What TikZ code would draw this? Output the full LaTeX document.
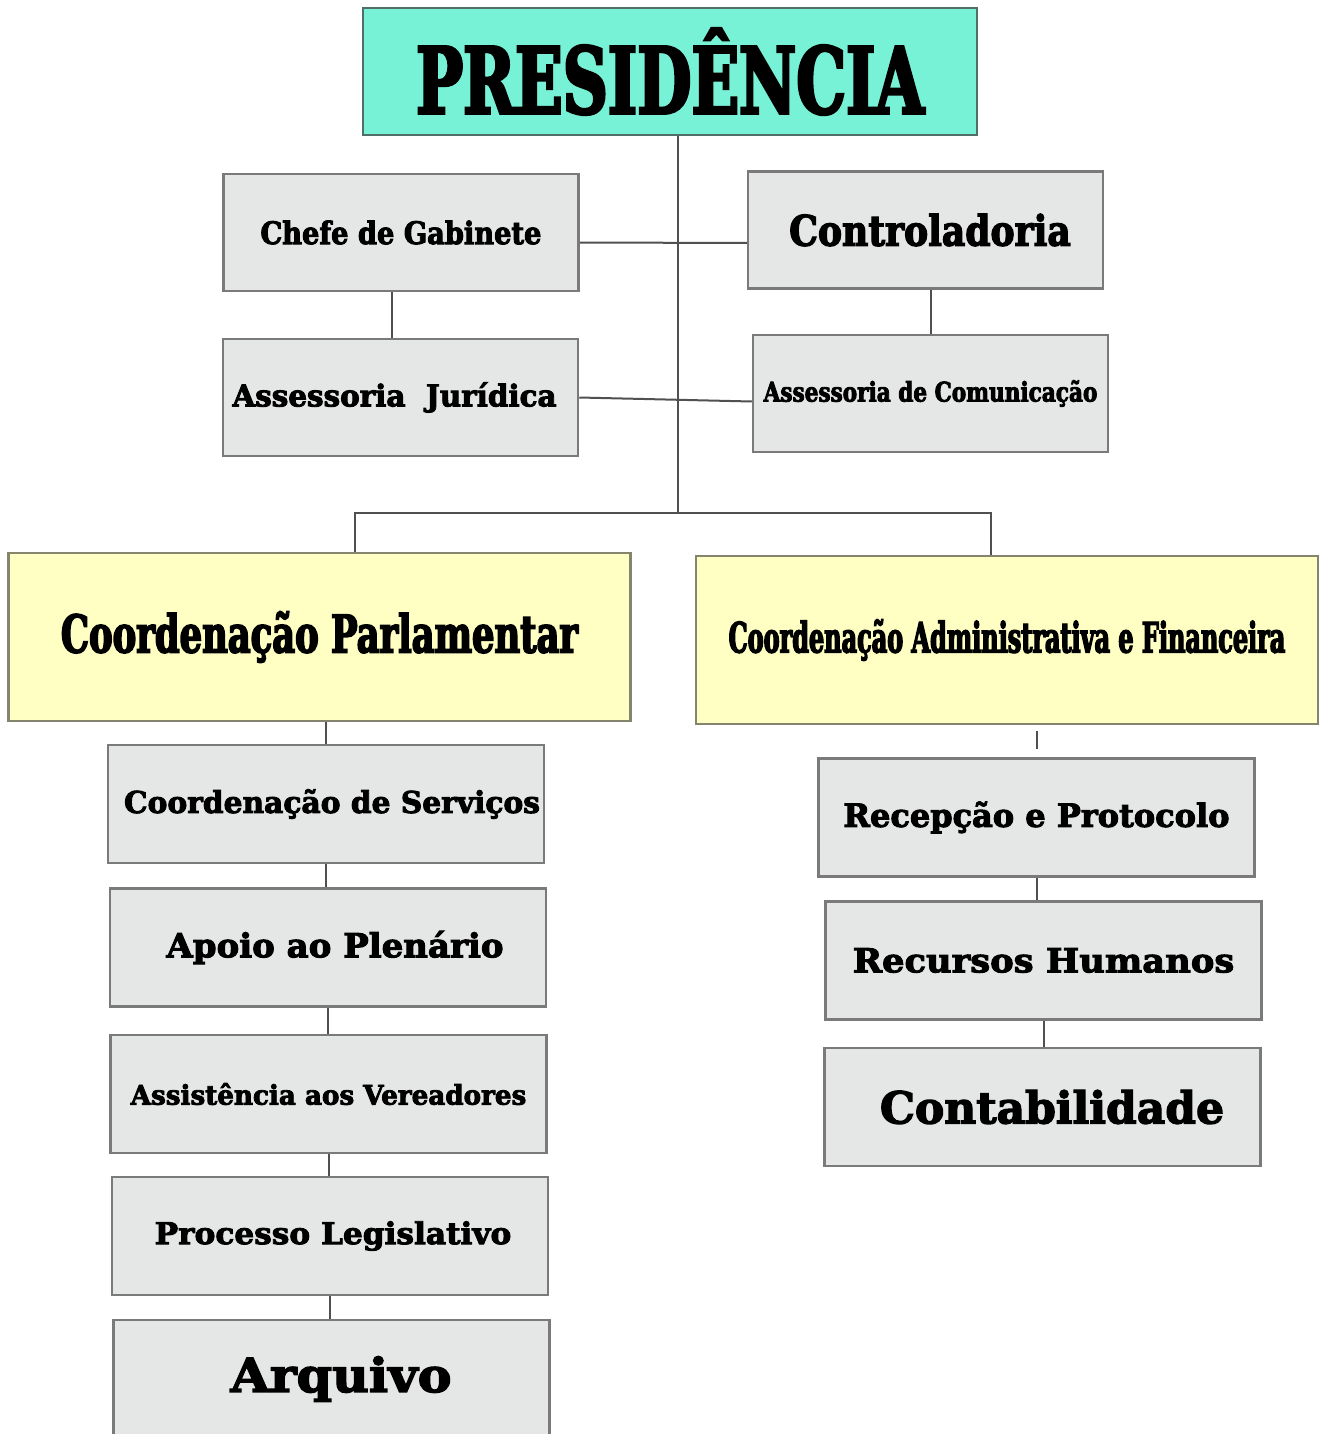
\documentclass[tikz,border=0pt]{standalone}
\usepackage{fontspec}
\usepackage{tikz}
\usetikzlibrary{positioning,calc}
\definecolor{presfill}{HTML}{78F2D6}
\definecolor{presline}{HTML}{4F6F69}
\definecolor{coordfill}{HTML}{FFFFC4}
\definecolor{coordline}{HTML}{85856E}
\definecolor{unitfill}{HTML}{E5E6E6}
\definecolor{unitline}{HTML}{7A7A7A}
\definecolor{wire}{HTML}{505050}
% heavy slab label: size, horizontal stretch, text
\newcommand{\slab}[3]{{\fontspec{DejaVu Serif}[FakeStretch=#2,FakeBold=3]\bfseries\fontsize{#1}{#1}\selectfont #3}}

\begin{document}
\begin{tikzpicture}[
  x=1pt, y=-1pt,
  box/.style={draw=unitline, fill=unitfill, line width=2.5pt, inner sep=0pt,
    minimum width=436pt, minimum height=118pt, align=center},
  topbox/.style={box, draw=presline, fill=presfill, minimum width=614pt, minimum height=127pt},
  sidebox/.style={box, minimum width=355pt, minimum height=117pt},
  coordbox/.style={box, draw=coordline, fill=coordfill, minimum width=622pt, minimum height=168pt},
  link/.style={draw=wire, line width=2pt}
]
\clip (0,0) rectangle (1326,1434);
\fill[white] (0,0) rectangle (1326,1434);

% top
\node[topbox] (pres) at (670,71.5) {\slab{92}{0.68}{PRESIDÊNCIA}};

% staff units
\node[sidebox] (chefe) at (401,232.5)   {\slab{31}{0.88}{Chefe de Gabinete}};
\node[sidebox] (contr) at (925.5,230)   {\slab{42}{0.86}{\hspace{9pt}Controladoria}};
\node[sidebox] (jur)   at (400.5,397.5) {\slab{30}{0.98}{Assessoria\ \ Jurídica\hspace{12pt}}};
\node[sidebox] (comun) at (930.5,393.5) {\slab{27}{0.8}{Assessoria de Comunicação}};

% coordinations
\node[coordbox] (parl) at (319.5,637) {\slab{52}{0.68}{Coordenação Parlamentar}};
\node[coordbox] (adm)  at (1007,640)  {\slab{42}{0.57}{Coordenação Administrativa e Financeira}};

% left column
\node[box] (serv)   at (326,804)    {\slab{30}{0.99}{\hspace{12pt}Coordenação de Serviços}};
\node[box] (apoio)  at (328,947.5)  {\slab{33}{1.03}{\hspace{14pt}Apoio ao Plenário}};
\node[box] (assist) at (328.5,1094) {\slab{27}{0.97}{Assistência aos Vereadores}};
\node[box] (proc)   at (330,1236)   {\slab{30}{1.04}{\hspace{6pt}Processo Legislativo}};
\node[box] (arq)    at (331.5,1379) {\slab{47}{1.08}{\hspace{19pt}Arquivo}};

% right column
\node[box] (recep) at (1036.5,817.5) {\slab{32}{1.0}{Recepção e Protocolo}};
\node[box] (rh)    at (1043.5,960.5) {\slab{33}{1.07}{Recursos Humanos}};
\node[box] (cont)  at (1042.5,1107)  {\slab{44}{1.0}{\hspace{19pt}Contabilidade}};

% connectors
\coordinate (hub) at (678,513);
\draw[link] (hub |- pres.south) -- (hub);
\draw[link] (hub) -| ([xshift=35.5pt]parl.north);
\draw[link] (hub) -| ([xshift=-16pt]adm.north);
\draw[link] ([yshift=-10pt]chefe.east) -- ([yshift=-13pt]contr.west);
\draw[link] (jur.east) -- ([yshift=-8pt]comun.west);
\draw[link] ([xshift=-9pt]chefe.south) -- ([xshift=-9pt]chefe.south |- jur.north);
\draw[link] ([xshift=5pt]contr.south) -- ([xshift=5pt]contr.south |- comun.north);
\draw[link] (serv.north |- parl.south) -- (serv.north);
\draw[link] (serv.south) -- (serv.south |- apoio.north);
\draw[link] (apoio.south) -- (apoio.south |- assist.north);
\draw[link] (assist.south) -- (assist.south |- proc.north);
\draw[link] (proc.south) -- (proc.south |- arq.north);
\draw[link, shorten <=6pt, shorten >=8pt] (recep.north |- adm.south) -- (recep.north);
\draw[link] (recep.south) -- (recep.south |- rh.north);
\draw[link] (rh.south) -- (rh.south |- cont.north);
\end{tikzpicture}
\end{document}
